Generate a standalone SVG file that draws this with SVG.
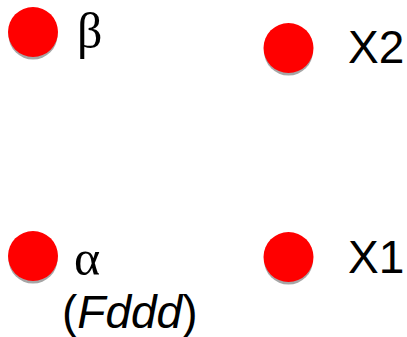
<svg xmlns="http://www.w3.org/2000/svg" width="407" height="337" viewBox="0 0 407 337">
<style>
.dot{fill:#ff0000}
.sh{fill:#a6a6a6}
.g{font-family:"Liberation Serif","Times New Roman",serif;font-size:50px;fill:#000}
.t{font-family:"Liberation Sans",Arial,sans-serif;font-size:46px;fill:#000}
</style>
<rect width="407" height="337" fill="#fff"/>
<g id="connectors"></g>
<g id="beta">
<circle class="sh" cx="33" cy="35" r="24.5"/>
<circle class="dot" cx="33" cy="32" r="25"/>
<text class="g" x="77" y="48">β</text>
</g>
<g id="x2">
<circle class="sh" cx="288.5" cy="51" r="24.5"/>
<circle class="dot" cx="288.5" cy="48" r="25"/>
<text class="t" x="348" y="63">X2</text>
</g>
<g id="alpha">
<circle class="sh" cx="33" cy="259" r="24.5"/>
<circle class="dot" cx="33" cy="256" r="25"/>
<text class="g" x="74" y="275">α</text>
<text class="t" x="62" y="328" font-size="47">(<tspan font-style="italic">Fddd</tspan>)</text>
</g>
<g id="x1">
<circle class="sh" cx="288.5" cy="260" r="24.5"/>
<circle class="dot" cx="288.5" cy="257" r="25"/>
<text class="t" x="348" y="273">X1</text>
</g>
</svg>
